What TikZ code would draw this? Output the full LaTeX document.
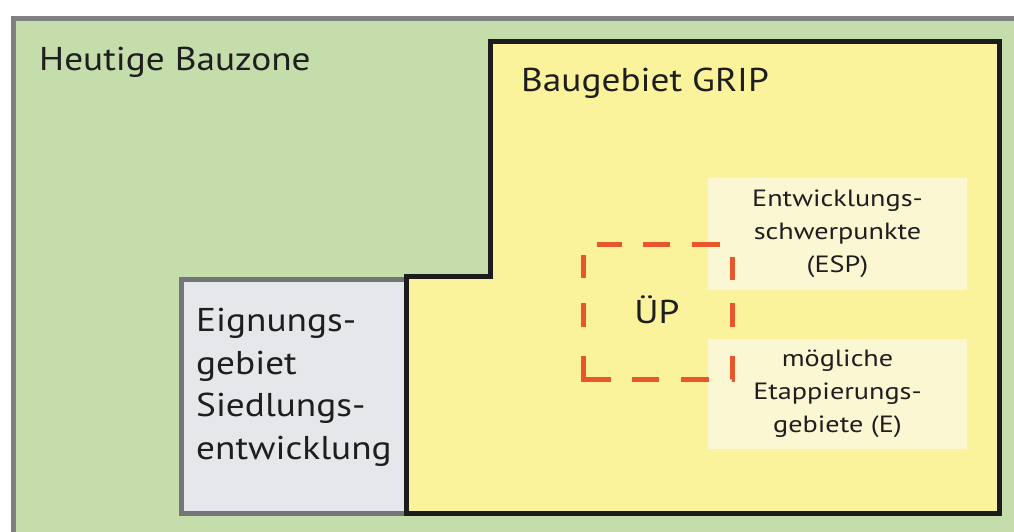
\documentclass[tikz,border=0pt]{standalone}
\usepackage{fontspec}
\setmainfont{PT Sans}
\newfontfamily\bigfont{PT Sans}[FakeStretch=1.13]
\newfontfamily\smallfont{PT Sans}[FakeStretch=1.2]
\definecolor{zonegreen}{HTML}{C5DDAB}
\definecolor{zoneframe}{HTML}{7E8081}
\definecolor{gripyellow}{HTML}{FBF39C}
\definecolor{gripframe}{HTML}{1C1C1C}
\definecolor{eigfill}{HTML}{E6E7EB}
\definecolor{eigframe}{HTML}{737577}
\definecolor{lblfill}{HTML}{FCF7D3}
\definecolor{upred}{HTML}{E9562C}
\definecolor{txt}{HTML}{1E1E1E}
\tikzset{
  zonearea/.style={fill=zonegreen, draw=zoneframe, line width=5pt},
  griparea/.style={fill=gripyellow, draw=gripframe, line width=5pt, line join=miter},
  eigarea/.style={fill=eigfill, draw=eigframe, line width=5pt},
  lblbox/.style={fill=lblfill, draw=none, inner sep=0pt, align=center, text=txt,
    minimum width=259pt, font=\smallfont\fontsize{23.5}{33}\selectfont},
  bigtext/.style={inner sep=0pt, text=txt, font=\bigfont\fontsize{33}{42.5}\selectfont},
  updash/.style={draw=upred, line width=5pt, line join=miter,
    dash pattern=on 51pt off 21pt on 27pt off 22pt on 28pt off 23pt on 23pt off 29pt on 24pt off 23pt on 23pt off 25pt on 28pt off 22pt on 27pt off 21pt on 25pt off 25pt on 23pt off 25pt on 24pt off 29pt}
}
\begin{document}
\begin{tikzpicture}[x=1pt,y=-1pt]
\clip (0,0) rectangle (1014,531);
\fill[white] (0,0) rectangle (1014,531);
% Heutige Bauzone
\path[zonearea] (13,18) rectangle (1040,560);
% Eignungsgebiet
\path[eigarea] (181,279) rectangle (406,513);
% Baugebiet GRIP
\path[griparea] (490,41) -- (999,41) -- (999,513) -- (406,513) -- (406,276) -- (490,276) -- cycle;
% label boxes
\node[lblbox, minimum height=112pt] (esp) at (837.5,234) {Entwicklungs-\\schwerpunkte\\(ESP)};
\node[lblbox, minimum height=110pt] (etap) at (837.5,394) {mögliche\\Etappierungs-\\gebiete (E)};
% texts
\node[bigtext, anchor=base west] (hb) at (39,70) {Heutige Bauzone};
\node[bigtext, anchor=base west] (grip) at (521,91) {Baugebiet GRIP};
\node[bigtext, anchor=north west, align=left] (eig) at (196,308) {Eignungs-\\gebiet\\Siedlungs-\\entwicklung};
% UeP dashed box
\draw[updash] (583,356) -- (583,379) -- (732,379) -- (732,244) -- (583,244) -- cycle;
\node[bigtext, anchor=base] (up) at (657,323) {ÜP};
\end{tikzpicture}
\end{document}
